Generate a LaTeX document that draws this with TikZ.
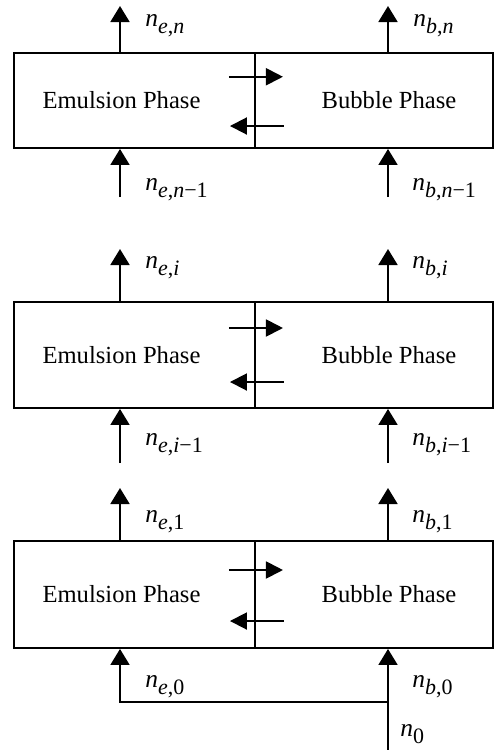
\documentclass[tikz,border=0pt]{standalone}
\usepackage{fontspec}
\setmainfont{Liberation Serif}
\usetikzlibrary{arrows.meta,positioning}
\newcommand{\nsub}[1]{\raisebox{-4pt}{\fontsize{12.5}{13}\selectfont #1}}
\newcommand{\nfl}[2]{\textit{n}\nsub{\textit{#1},#2}}
\tikzset{
  phase/.style={draw,line width=1.1pt,inner sep=0pt,minimum height=#1},
  phasetxt/.style={font=\fontsize{14}{16}\selectfont},
  flow/.style={line width=1.1pt,-{Triangle[width=0.38cm,length=0.32cm]}},
  xfer/.style={line width=1.1pt,-{Triangle[width=0.34cm,length=0.34cm]}},
  lbl/.style={inner sep=0pt,anchor=base west,font=\fontsize{14.5}{16}\selectfont}
}
\begin{document}
\begin{tikzpicture}[line join=miter]
\useasboundingbox (0,0) rectangle (9.88,-15);
% stage n (top)
\node[phase=1.90cm,minimum width=4.82cm] (emu1) at (2.69,-2.01) {};
\node[phase=1.90cm,minimum width=4.76cm] (bub1) at (7.48,-2.01) {};
\node[phasetxt] (et1) at (2.43,-2.01) {Emulsion Phase};
\node[phasetxt] (bt1) at (7.78,-2.01) {Bubble Phase};
\coordinate (eo1) at (2.40,-0.12);
\coordinate (bo1) at (7.76,-0.12);
\coordinate (ei1) at (2.40,-3.94);
\coordinate (bi1) at (7.76,-3.94);
\draw[flow] (emu1.north -| eo1) -- (eo1);
\draw[flow] (bub1.north -| bo1) -- (bo1);
\draw[flow] (ei1) -- (emu1.south -| ei1);
\draw[flow] (bi1) -- (bub1.south -| bi1);
\draw[xfer] ([xshift=-0.54cm,yshift=0.475cm]emu1.east) -- ([xshift=0.54cm,yshift=0.475cm]emu1.east);
\draw[xfer] ([xshift=0.56cm,yshift=-0.51cm]emu1.east) -- ([xshift=-0.52cm,yshift=-0.51cm]emu1.east);
\node[lbl] (leo1) at (2.90,-0.52) {\nfl{e}{\textit{n}}};
\node[lbl] (lbo1) at (8.26,-0.52) {\nfl{b}{\textit{n}}};
\node[lbl] (lei1) at (2.90,-3.80) {\nfl{e}{\textit{n}−1}};
\node[lbl] (lbi1) at (8.24,-3.80) {\nfl{b}{\textit{n}−1}};
% stage i
\node[phase=2.12cm,minimum width=4.82cm] (emu2) at (2.69,-7.10) {};
\node[phase=2.12cm,minimum width=4.76cm] (bub2) at (7.48,-7.10) {};
\node[phasetxt] (et2) at (2.43,-7.10) {Emulsion Phase};
\node[phasetxt] (bt2) at (7.78,-7.10) {Bubble Phase};
\coordinate (eo2) at (2.40,-4.98);
\coordinate (bo2) at (7.76,-4.98);
\coordinate (ei2) at (2.40,-9.26);
\coordinate (bi2) at (7.76,-9.26);
\draw[flow] (emu2.north -| eo2) -- (eo2);
\draw[flow] (bub2.north -| bo2) -- (bo2);
\draw[flow] (ei2) -- (emu2.south -| ei2);
\draw[flow] (bi2) -- (bub2.south -| bi2);
\draw[xfer] ([xshift=-0.54cm,yshift=0.54cm]emu2.east) -- ([xshift=0.54cm,yshift=0.54cm]emu2.east);
\draw[xfer] ([xshift=0.56cm,yshift=-0.54cm]emu2.east) -- ([xshift=-0.52cm,yshift=-0.54cm]emu2.east);
\node[lbl] (leo2) at (2.90,-5.36) {\nfl{e}{\textit{i}}};
\node[lbl] (lbo2) at (8.24,-5.36) {\nfl{b}{\textit{i}}};
\node[lbl] (lei2) at (2.90,-8.90) {\nfl{e}{\textit{i}−1}};
\node[lbl] (lbi2) at (8.24,-8.90) {\nfl{b}{\textit{i}−1}};
% stage 1 (bottom)
\node[phase=2.14cm,minimum width=4.82cm] (emu3) at (2.69,-11.89) {};
\node[phase=2.14cm,minimum width=4.76cm] (bub3) at (7.48,-11.89) {};
\node[phasetxt] (et3) at (2.43,-11.89) {Emulsion Phase};
\node[phasetxt] (bt3) at (7.78,-11.89) {Bubble Phase};
\coordinate (eo3) at (2.40,-9.76);
\coordinate (bo3) at (7.76,-9.76);
\draw[flow] (emu3.north -| eo3) -- (eo3);
\draw[flow] (bub3.north -| bo3) -- (bo3);
\draw[xfer] ([xshift=-0.54cm,yshift=0.49cm]emu3.east) -- ([xshift=0.54cm,yshift=0.49cm]emu3.east);
\draw[xfer] ([xshift=0.56cm,yshift=-0.53cm]emu3.east) -- ([xshift=-0.52cm,yshift=-0.53cm]emu3.east);
\node[lbl] (leo3) at (2.90,-10.44) {\nfl{e}{1}};
\node[lbl] (lbo3) at (8.24,-10.44) {\nfl{b}{1}};
% feed and split
\coordinate (feed) at (7.76,-15);
\coordinate (split) at (7.76,-14.04);
\draw[line width=1.1pt] (feed) -- (split);
\draw[flow] (split) -- (bub3.south -| split);
\draw[flow] (split) -| (emu3.south -| eo3);
\node[lbl] (le0) at (2.90,-13.74) {\nfl{e}{0}};
\node[lbl] (lb0) at (8.24,-13.74) {\nfl{b}{0}};
\node[lbl] (lf0) at (8.00,-14.72) {\textit{n}\nsub{0}};
\end{tikzpicture}
\end{document}
